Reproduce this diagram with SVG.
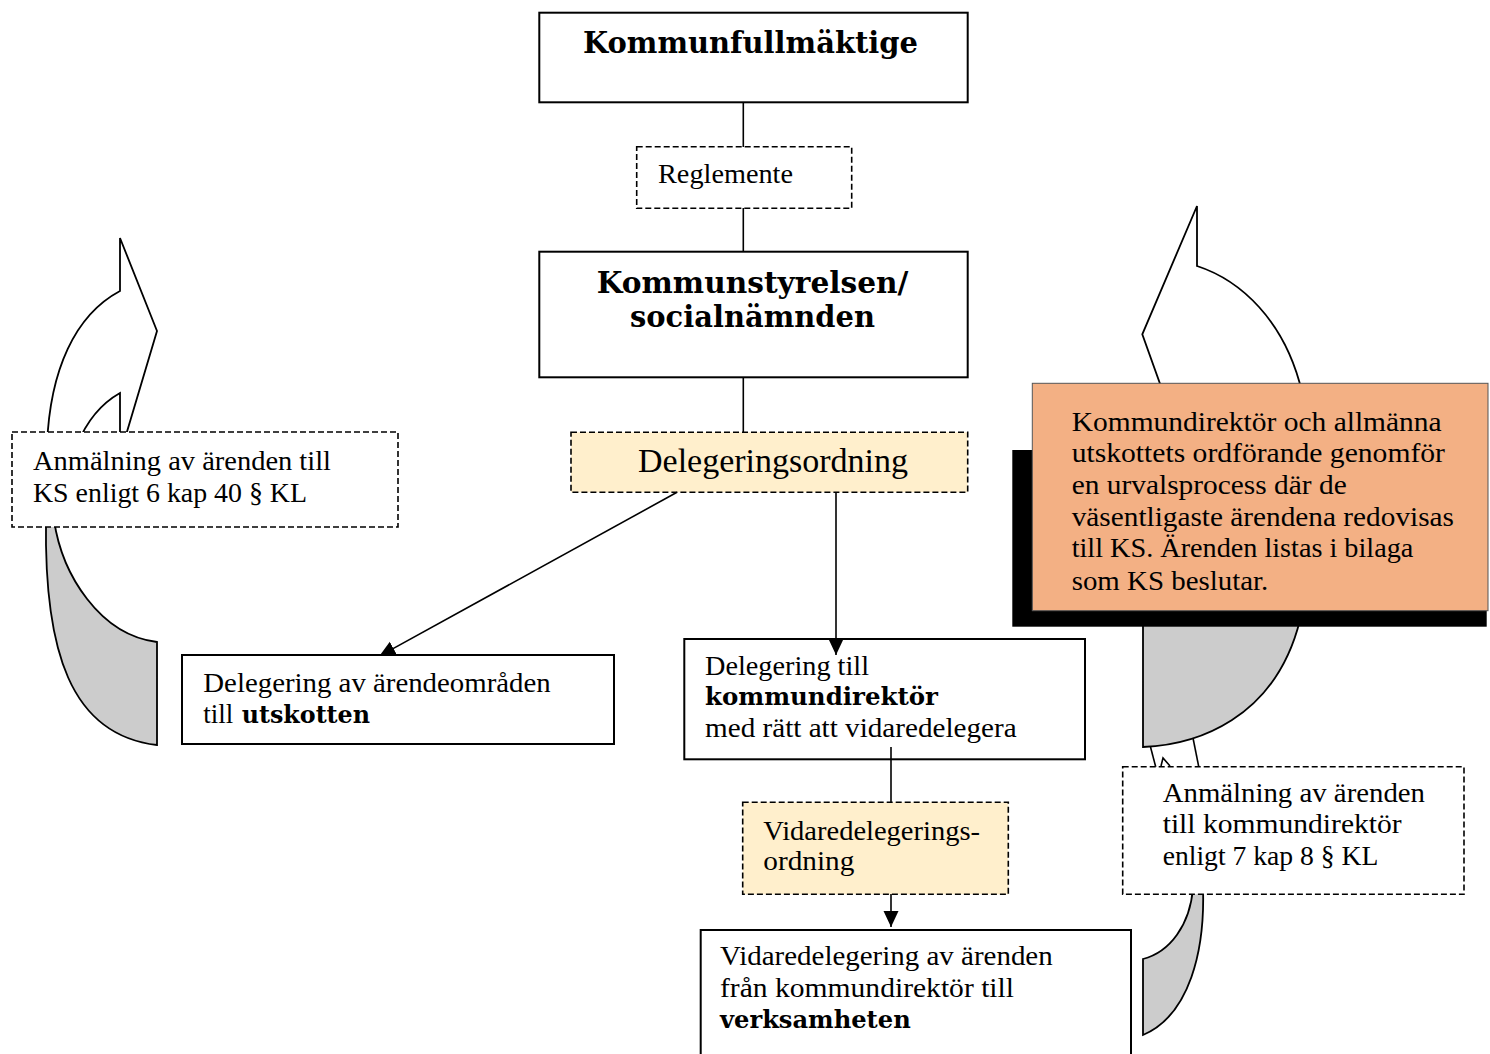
<svg xmlns="http://www.w3.org/2000/svg" width="1490" height="1054" viewBox="0 0 1490 1054">
<style>
.bg{fill:#ffffff}
.box{fill:#ffffff;stroke:#000;stroke-width:2}
.dbox{fill:#ffffff;stroke:#000;stroke-width:1.6;stroke-dasharray:6 3}
.ybox{fill:#FFEFCC;stroke:#000;stroke-width:1.6;stroke-dasharray:6 3}
.conn{fill:none;stroke:#000;stroke-width:1.6}
.head{fill:#ffffff;stroke:#000;stroke-width:1.8;stroke-linejoin:miter}
.back{fill:#CCCCCC;stroke:#000;stroke-width:1.8}
.t{font-family:"Liberation Serif","Times New Roman",serif;font-size:28px;fill:#000}
.b{font-family:"DejaVu Serif","Liberation Serif",serif;font-weight:bold;font-size:24px;fill:#000}
.h{font-family:"DejaVu Serif","Liberation Serif",serif;font-weight:bold;font-size:29px;fill:#000}
</style>
<defs>
<marker id="arr" markerUnits="userSpaceOnUse" markerWidth="18" markerHeight="16" refX="16" refY="7.5" orient="auto">
<path d="M0,0 L16,7.5 L0,15 Z" fill="#000"/>
</marker>
</defs>
<rect class="bg" x="0" y="0" width="1490" height="1054"/>

<g id="feedback-arrows">
<path class="head" d="M120,238 L157,331 L123,445 L120,445 L120,393 C104,402 88,418 77,445 L47,445 C50,370 75,315 120,291 Z"/>
<path class="back" d="M46,520 C44,650 70,735 157,745 L157,642 C100,635 62,575 54,520 Z"/>
<path class="head" d="M1197,206 L1197,266 C1240,280 1285,320 1302,392 L1163,392 L1142.3,334.3 Z"/>
<line class="conn" x1="1150" y1="745" x2="1156" y2="768"/>
<line class="conn" x1="1193" y1="738" x2="1199" y2="768"/>
<path class="conn" d="M1161,766 L1163,758 L1170,766"/>
<path class="back" d="M1143,620 L1143,747 C1195,745 1275,720 1300,620 Z"/>
<path class="back" d="M1203,888 C1205,950 1190,1015 1143,1035 L1143,959 C1170,952 1190,925 1193,888 Z"/>
</g>

<g id="kommunfullmaktige">
<rect class="box" x="539.3" y="12.7" width="428.4" height="89.6"/>
<text class="h" x="583" y="53" textLength="335" lengthAdjust="spacingAndGlyphs">Kommunfullmäktige</text>
</g>

<g id="reglemente">
<rect class="dbox" x="636.7" y="146.7" width="215" height="61.6"/>
<text class="t" x="658" y="183" textLength="135" lengthAdjust="spacingAndGlyphs">Reglemente</text>
</g>

<g id="kommunstyrelsen">
<rect class="box" x="539.3" y="251.7" width="428.4" height="125.6"/>
<text class="h" x="596.7" y="292.7" textLength="311.7" lengthAdjust="spacingAndGlyphs">Kommunstyrelsen/</text>
<text class="h" x="630" y="327.3" textLength="245" lengthAdjust="spacingAndGlyphs">socialnämnden</text>
</g>

<g id="delegeringsordning">
<rect class="ybox" x="571" y="432.3" width="396.7" height="60"/>
<text class="t" style="font-size:33px" x="638" y="472" textLength="270" lengthAdjust="spacingAndGlyphs">Delegeringsordning</text>
</g>

<g id="anmalan-ks">
<rect class="dbox" x="12" y="432" width="386" height="95"/>
<text class="t" x="33" y="470" textLength="298" lengthAdjust="spacingAndGlyphs">Anmälning av ärenden till</text>
<text class="t" x="33" y="501.7" textLength="274" lengthAdjust="spacingAndGlyphs">KS enligt 6 kap 40 § KL</text>
</g>

<g id="urvalsprocess">
<rect x="1012.3" y="450" width="474.4" height="176.7" fill="#000"/>
<rect x="1032.3" y="383.3" width="455.7" height="227.4" fill="#F3B084" stroke="#555" stroke-width="1"/>
<text class="t" x="1071.7" y="431" textLength="370" lengthAdjust="spacingAndGlyphs">Kommundirektör och allmänna</text>
<text class="t" x="1071.7" y="462.3" textLength="373.3" lengthAdjust="spacingAndGlyphs">utskottets ordförande genomför</text>
<text class="t" x="1071.7" y="494" textLength="275" lengthAdjust="spacingAndGlyphs">en urvalsprocess där de</text>
<text class="t" x="1071.7" y="526" textLength="382.3" lengthAdjust="spacingAndGlyphs">väsentligaste ärendena redovisas</text>
<text class="t" x="1071.7" y="557.3" textLength="341.6" lengthAdjust="spacingAndGlyphs">till KS. Ärenden listas i bilaga</text>
<text class="t" x="1071.7" y="590" textLength="196.6" lengthAdjust="spacingAndGlyphs">som KS beslutar.</text>
</g>

<g id="delegering-kommundirektor">
<rect class="box" x="684.3" y="639" width="400.7" height="120.3"/>
<text class="t" x="705" y="675" textLength="164" lengthAdjust="spacingAndGlyphs">Delegering till</text>
<text class="b" x="705" y="705" textLength="233" lengthAdjust="spacingAndGlyphs">kommundirektör</text>
<text class="t" x="705" y="736.7" textLength="311.7" lengthAdjust="spacingAndGlyphs">med rätt att vidaredelegera</text>
</g>

<g id="vidaredelegeringsordning">
<rect class="ybox" x="742.7" y="802.3" width="265.6" height="92"/>
<text class="t" x="763.3" y="840" textLength="216.7" lengthAdjust="spacingAndGlyphs">Vidaredelegerings-</text>
<text class="t" x="763.3" y="870" textLength="91" lengthAdjust="spacingAndGlyphs">ordning</text>
</g>

<g id="anmalan-kommundirektor">
<rect class="dbox" x="1122.7" y="766.7" width="341.3" height="127.6"/>
<text class="t" x="1162.7" y="801.7" textLength="262.3" lengthAdjust="spacingAndGlyphs">Anmälning av ärenden</text>
<text class="t" x="1162.7" y="833.3" textLength="239" lengthAdjust="spacingAndGlyphs">till kommundirektör</text>
<text class="t" x="1162.7" y="865" textLength="215.6" lengthAdjust="spacingAndGlyphs">enligt 7 kap 8 § KL</text>
</g>

<g id="vidaredelegering-verksamheten">
<rect class="box" x="700.7" y="930" width="430.3" height="140"/>
<text class="t" x="720" y="965" textLength="332.7" lengthAdjust="spacingAndGlyphs">Vidaredelegering av ärenden</text>
<text class="t" x="720" y="996.7" textLength="294" lengthAdjust="spacingAndGlyphs">från kommundirektör till</text>
<text class="b" x="720" y="1028.3" textLength="190.7" lengthAdjust="spacingAndGlyphs">verksamheten</text>
</g>

<g id="connectors">
<line class="conn" x1="743.3" y1="102" x2="743.3" y2="147"/>
<line class="conn" x1="743.3" y1="208" x2="743.3" y2="252"/>
<line class="conn" x1="743.3" y1="377" x2="743.3" y2="432"/>
<line class="conn" x1="677" y1="492.3" x2="379.4" y2="656.1" marker-end="url(#arr)"/>
<line class="conn" x1="836" y1="492.3" x2="836" y2="655" marker-end="url(#arr)"/>
<line class="conn" x1="891" y1="747" x2="891" y2="802"/>
<line class="conn" x1="891" y1="894" x2="891" y2="927" marker-end="url(#arr)"/>
</g>

<g id="delegering-utskotten">
<rect class="box" x="182" y="655" width="432" height="89"/>
<text class="t" x="203.3" y="691.7" textLength="347.4" lengthAdjust="spacingAndGlyphs">Delegering av ärendeområden</text>
<text class="t" x="203.3" y="723.3" textLength="30" lengthAdjust="spacingAndGlyphs">till</text>
<text class="b" x="241.7" y="723.3" textLength="128.3" lengthAdjust="spacingAndGlyphs">utskotten</text>
</g>
</svg>
